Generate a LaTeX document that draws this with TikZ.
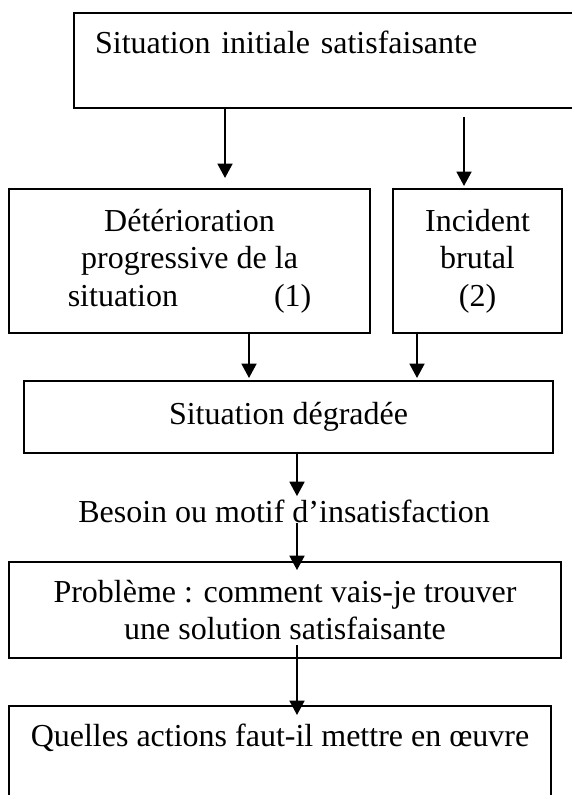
\documentclass[tikz,border=0pt]{standalone}
\usepackage{fontspec}
\setmainfont{Liberation Serif}
\usetikzlibrary{arrows.meta}

\begin{document}
\begin{tikzpicture}[
    x=0.375pt, y=-0.375pt,
    font=\fontsize{12pt}{14pt}\selectfont,
    box/.style={
        draw,
        line width=0.75pt,
        anchor=north west,
        align=center,
        inner sep=0pt
    },
    arr/.style={->, line width=0.75pt},
    >={Triangle[length=5.4pt,width=5.6pt]}
]
\useasboundingbox (0,0) rectangle (571,795);

\node[box, align=left, text width=181.8pt, inner xsep=7.9pt, minimum height=35.6pt] (init) at (73,12) {Situation initiale satisfaisante\\ ~};

\node[box, minimum width=135.4pt, minimum height=54pt] (deter) at (8,188) {Détérioration\\progressive de la\\situation\hspace*{36pt}(1)};
\node[box, minimum width=63.4pt, minimum height=54pt] (incid) at (392,188) {Incident\\brutal\\(2)};

\node[box, minimum width=198.4pt, minimum height=27pt] (degr) at (23,380) {Situation dégradée};
\node[inner sep=0pt] (besoin) at (284,511) {Besoin ou motif d’insatisfaction};

\node[box, minimum width=207pt, minimum height=36pt] (prob) at (8,561) {Problème : comment vais-je trouver\\une solution satisfaisante};
\node[box, minimum width=203.25pt, minimum height=35.6pt] (action) at (8,705) {Quelles actions faut-il mettre en œuvre\\ ~};

% x positions of the connectors
\coordinate (xl) at (225,0);
\coordinate (xr) at (464,0);
\coordinate (xdl) at (249,0);
\coordinate (xdr) at (417,0);
\coordinate (xm) at (297,0);

\draw[arr, shorten >=3.75pt] (init.south -| xl) -- (deter.north -| xl);
\draw[arr, shorten <=3pt, shorten >=0.75pt] (init.south -| xr) -- (incid.north -| xr);
\draw[arr, shorten >=0.75pt] (deter.south -| xdl) -- (degr.north -| xdl);
\draw[arr, shorten >=0.75pt] (incid.south -| xdr) -- (degr.north -| xdr);
\draw[arr, shorten >=1.1pt] (degr.south -| xm) -- (besoin.north -| xm);
\draw[arr, shorten >=-3.4pt] (besoin.south -| xm) -- (prob.north -| xm);
\draw[arr, shorten <=-5.25pt, shorten >=-3.75pt] (prob.south -| xm) -- (action.north -| xm);

\end{tikzpicture}
\end{document}
